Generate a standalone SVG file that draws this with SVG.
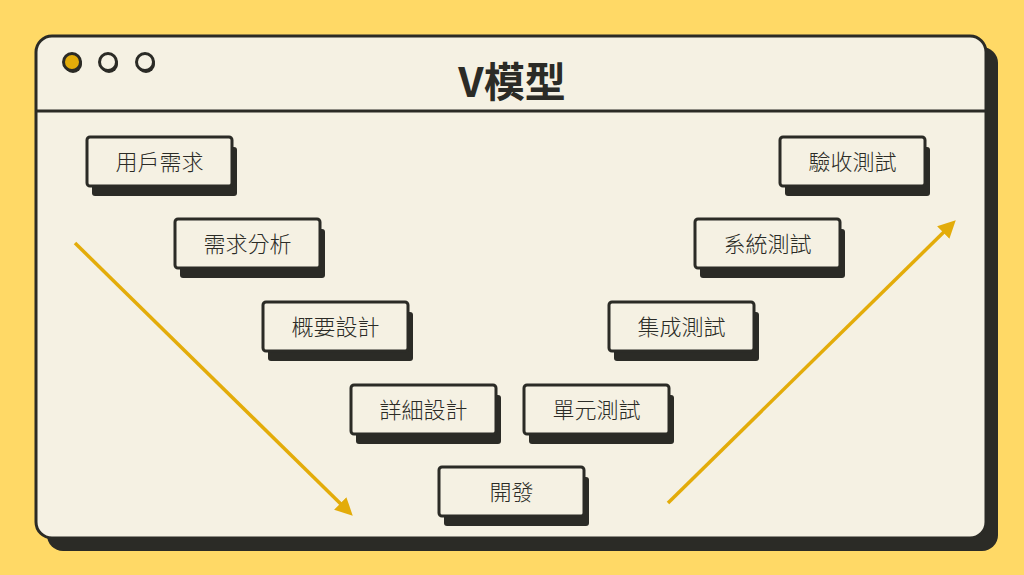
<svg xmlns="http://www.w3.org/2000/svg" width="1024" height="575" viewBox="0 0 1024 575">
<defs>
<style>
.nb{fill:#F5F1E3;stroke:#2B2B26;stroke-width:3}
.ns{fill:#2B2B26}
.nt{font-family:"Noto Sans CJK TC","Noto Sans CJK SC",sans-serif;font-size:22px;font-weight:300;fill:#2B2B26;text-anchor:middle;dominant-baseline:central}
.tt{font-family:"Noto Sans CJK TC","Noto Sans CJK SC",sans-serif;font-size:41px;font-weight:bold;fill:#2B2B26;text-anchor:middle;dominant-baseline:central}
.ar{stroke:#E3AC0A;stroke-width:3.5;fill:none}
</style>
<marker id="ah" viewBox="0 0 10 10" refX="7" refY="5" markerWidth="5" markerHeight="5" orient="auto" markerUnits="strokeWidth">
<path d="M0,0 L10,5 L0,10 z" fill="#E3AC0A"/>
</marker>
</defs>
<rect width="1024" height="575" fill="#FFD966"/>
<g id="window">
<rect x="47" y="47" width="951" height="504" rx="16" fill="#2B2B26"/>
<rect x="36" y="36" width="950" height="502" rx="16" fill="#F5F1E3" stroke="#2B2B26" stroke-width="3"/>
<line x1="36" y1="111" x2="986" y2="111" stroke="#2B2B26" stroke-width="3"/>
<circle cx="73" cy="64" r="9" fill="#2B2B26"/>
<circle cx="72" cy="62" r="8.5" fill="#E3AC0A" stroke="#2B2B26" stroke-width="3"/>
<circle cx="109" cy="64" r="9" fill="#2B2B26"/>
<circle cx="108" cy="62" r="8.5" fill="#F5F1E3" stroke="#2B2B26" stroke-width="3"/>
<circle cx="146" cy="64" r="9" fill="#2B2B26"/>
<circle cx="145" cy="62" r="8.5" fill="#F5F1E3" stroke="#2B2B26" stroke-width="3"/>
<text class="tt" x="512" y="79">V模型</text>
</g>
<g id="connectors">
<line class="ar" x1="75" y1="243" x2="349" y2="512" marker-end="url(#ah)"/>
<line class="ar" x1="668" y1="503" x2="952" y2="224" marker-end="url(#ah)"/>
</g>
<g id="n1"><rect class="ns" x="92" y="147" width="145" height="49" rx="3"/><rect class="nb" x="87" y="137" width="145" height="49" rx="3"/><text class="nt" x="159.5" y="159.5">用戶需求</text></g>
<g id="n2"><rect class="ns" x="180" y="229" width="145" height="49" rx="3"/><rect class="nb" x="175" y="219" width="145" height="49" rx="3"/><text class="nt" x="247.5" y="241.5">需求分析</text></g>
<g id="n3"><rect class="ns" x="268" y="312" width="145" height="49" rx="3"/><rect class="nb" x="263" y="302" width="145" height="49" rx="3"/><text class="nt" x="335.5" y="324.5">概要設計</text></g>
<g id="n4"><rect class="ns" x="356" y="395" width="145" height="49" rx="3"/><rect class="nb" x="351" y="385" width="145" height="49" rx="3"/><text class="nt" x="423.5" y="407.5">詳細設計</text></g>
<g id="n5"><rect class="ns" x="444" y="477" width="145" height="49" rx="3"/><rect class="nb" x="439" y="467" width="145" height="49" rx="3"/><text class="nt" x="511.5" y="489.5">開發</text></g>
<g id="n6"><rect class="ns" x="529" y="395" width="145" height="49" rx="3"/><rect class="nb" x="524" y="385" width="145" height="49" rx="3"/><text class="nt" x="596.5" y="407.5">單元測試</text></g>
<g id="n7"><rect class="ns" x="614" y="312" width="145" height="49" rx="3"/><rect class="nb" x="609" y="302" width="145" height="49" rx="3"/><text class="nt" x="681.5" y="324.5">集成測試</text></g>
<g id="n8"><rect class="ns" x="700" y="229" width="145" height="49" rx="3"/><rect class="nb" x="695" y="219" width="145" height="49" rx="3"/><text class="nt" x="767.5" y="241.5">系統測試</text></g>
<g id="n9"><rect class="ns" x="785" y="147" width="145" height="49" rx="3"/><rect class="nb" x="780" y="137" width="145" height="49" rx="3"/><text class="nt" x="852.5" y="159.5">驗收測試</text></g>
</svg>
